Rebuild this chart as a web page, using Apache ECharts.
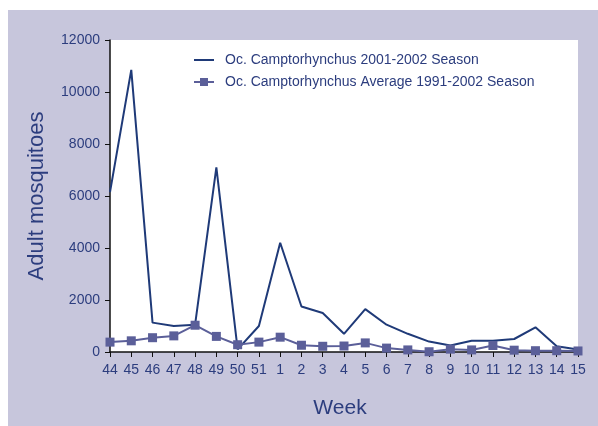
<!DOCTYPE html>
<html><head><meta charset="utf-8">
<script src="https://cdn.jsdelivr.net/npm/echarts@6/dist/echarts.min.js"></script>
<style>html,body{margin:0;padding:0;background:#fff}#c{width:598px;height:426px}</style>
</head><body><div id="c"></div>
<script>
const weeks = ['44','45','46','47','48','49','50','51','1','2','3','4','5','6','7','8','9','10','11','12','13','14','15'];
const season2001 = [6150,10850,1130,1000,1050,7100,100,1000,4200,1750,1500,700,1650,1050,700,400,250,430,430,500,950,220,100];
const average9102 = [380,430,550,620,1030,600,280,380,570,260,220,230,350,150,80,10,110,80,250,70,50,50,40];
const yTicks = {min:0, max:12000, interval:2000};

const txt = '#2c3d7e';
const chart = echarts.init(document.getElementById('c'), null, {renderer:'canvas'});
chart.setOption({
  animation:false,
  textStyle:{fontFamily:'Liberation Sans, Arial, sans-serif'},
  graphic:[{type:'rect', z:-10, shape:{x:8,y:10,width:590,height:416}, style:{fill:'#c7c6dc'}, silent:true}],
  grid:{left:110, right:20, top:40, bottom:74, show:true, backgroundColor:'#ffffff', borderWidth:0},
  legend:{
    left:188, top:48, orient:'vertical', itemGap:8, itemWidth:20, itemHeight:10,
    textStyle:{color:txt, fontSize:14, padding:[0,0,0,6], fontFamily:'Liberation Sans, Arial, sans-serif'},
    data:[{name:'Oc. Camptorhynchus 2001-2002 Season', icon:'path://M0,4L20,4L20,6L0,6Z'},
          {name:'Oc. Camptorhynchus Average 1991-2002 Season'}]
  },
  xAxis:{
    type:'category', data:weeks, boundaryGap:false,
    name:'Week', nameLocation:'middle', nameGap:46,
    nameTextStyle:{color:txt, fontSize:21, padding:[0,8,0,0]},
    axisLine:{lineStyle:{color:'#111', width:1.5}},
    axisTick:{show:true, length:5, lineStyle:{color:'#111'}},
    axisLabel:{color:txt, fontSize:14, margin:11, interval:0}
  },
  yAxis:{
    type:'value', min:yTicks.min, max:yTicks.max, interval:yTicks.interval,
    name:'Adult mosquitoes', nameLocation:'middle', nameGap:62,
    nameTextStyle:{color:txt, fontSize:22},
    axisLine:{show:true, lineStyle:{color:'#111', width:1.5}},
    axisTick:{show:true, length:5, lineStyle:{color:'#111'}},
    axisLabel:{color:txt, fontSize:14, margin:10, formatter:v => String(v)},
    splitLine:{show:false}
  },
  series:[
    {name:'Oc. Camptorhynchus 2001-2002 Season', type:'line', data:season2001,
     symbol:'none', lineStyle:{color:'#1f3a78', width:2}, itemStyle:{color:'#1f3a78'}},
    {name:'Oc. Camptorhynchus Average 1991-2002 Season', type:'line', data:average9102,
     symbol:'rect', symbolSize:9, showAllSymbol:true,
     lineStyle:{color:'#5b5f99', width:2}, itemStyle:{color:'#5b5f99'}}
  ]
});
</script></body></html>
